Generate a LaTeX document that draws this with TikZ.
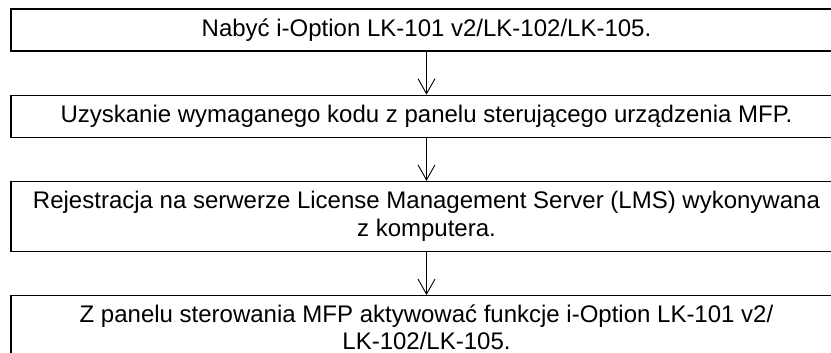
\documentclass[tikz,border=0pt]{standalone}
\usepackage{fontspec}
\setmainfont{Liberation Sans}
\usetikzlibrary{arrows.meta,positioning}

\begin{document}
\begin{tikzpicture}[
    x=1pt, y=-1pt,
    stepbox/.style={rectangle, draw=black, line width=1.2pt, minimum width=831pt, minimum height=42pt, align=center, inner sep=0pt, font=\fontsize{24}{28}\selectfont},
    flow/.style={-{Straight Barb[length=15pt, width=17pt, line width=0.9pt]}, line width=0.9pt},
    node distance=43pt
]

% Page and clipping - boxes run past the right edge
\useasboundingbox (0,0) rectangle (831,353);
\clip (0,0) rectangle (831,353);

% Steps
\node[stepbox] (s1) at (426.5, 30) {Nabyć i-Option LK-101 v2/LK-102/LK-105.};
\node[stepbox, below=of s1] (s2) {Uzyskanie wymaganego kodu z panelu sterującego urządzenia MFP.};
\node[stepbox, below=of s2, minimum height=70pt] (s3) {Rejestracja na serwerze License Management Server (LMS) wykonywana\\z komputera.};
\node[stepbox, below=of s3, minimum height=63pt, font=\fontsize{24}{27}\selectfont] (s4) {Z panelu sterowania MFP aktywować funkcje i-Option LK-101 v2/\\LK-102/LK-105.};

% Arrows between steps
\draw[flow] (s1) -- (s2);
\draw[flow] (s2) -- (s3);
\draw[flow] (s3) -- (s4);

\end{tikzpicture}
\end{document}
